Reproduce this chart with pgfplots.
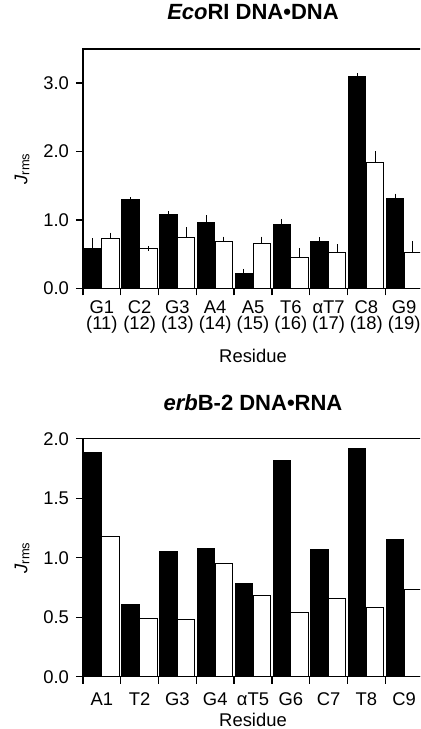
\documentclass[border=0pt]{standalone}
\usepackage{pgfplots}
\usepackage{pgfplotstable}
\pgfplotsset{compat=1.18}
\usepackage{fontspec}
\setmainfont{Liberation Sans}

\pgfplotstableread{
x b be w we
0 0.58 0.12 0.73 0.05
1 1.30 0.00 0.58 0.00
2 1.08 0.01 0.75 0.11
3 0.96 0.07 0.69 0.03
4 0.22 0.03 0.65 0.07
5 0.94 0.04 0.45 0.10
6 0.68 0.03 0.53 0.08
7 3.10 0.01 1.84 0.13
8 1.32 0.03 0.53 0.13
}\ecodata

\pgfplotstableread{
x b w
0 1.88 1.18
1 0.61 0.49
2 1.05 0.48
3 1.08 0.95
4 0.78 0.68
5 1.815 0.54
6 1.07 0.66
7 1.92 0.58
8 1.15 0.73
}\erbdata

\pgfplotsset{
  panel/.style={
    scale only axis, width=170pt,
    xmin=-0.5, xmax=8.5, ymin=0,
    axis line style={line width=0.7pt},
    every tick/.style={black, line width=0.7pt},
    tick align=outside, xtick pos=bottom, ytick pos=left,
    major tick length=3.5pt,
    xtick={-0.5,0.5,...,8.5}, xticklabels={},
    extra x ticks={0,...,8},
    extra x tick style={major tick length=0pt},
    xticklabel style={align=center, font=\fontsize{9.2}{8.1}\selectfont},
    yticklabel style={font=\fontsize{9.2}{9}\selectfont,
      /pgf/number format/.cd, fixed, fixed zerofill, precision=1},
    /pgf/number format/assume math mode=true,
    ylabel={\textit{J}\textsubscript{rms}},
    ylabel style={at={(axis description cs:-0.179,0.5)}, anchor=center, font=\fontsize{9.2}{9}\selectfont},
    xlabel={Residue},
    xlabel style={font=\fontsize{9.2}{9}\selectfont},
    title style={at={(axis description cs:0.5,1)}, anchor=center, font=\fontsize{11}{12}\selectfont\bfseries},
  },
  blackbar/.style={ybar, bar width=0.46, bar shift=0, fill=black, draw=black, line width=0.5pt},
  whitebar/.style={ybar, bar width=0.46, bar shift=0, fill=white, draw=black, line width=0.5pt},
  errs/.style={error bars/.cd, y dir=plus, y explicit,
    error bar style={black, line width=0.5pt},
    error mark options={black, line width=0.5pt, mark size=1.2pt}},
}

\begin{document}
\begin{tikzpicture}
\useasboundingbox (0,0) rectangle (210pt,364.5pt);
\clip (0,0) rectangle (210pt,364.5pt);

\begin{axis}[panel,
  at={(41.5pt,220.35pt)}, anchor=south west,
  height=119.65pt, ymax=3.5,
  ytick={0,1,2,3},
  extra x tick labels={G1\\(11), C2\\(12), G3\\(13), A4\\(14), A5\\(15), T6\\(16), αT7\\(17), C8\\(18), G9\\(19)},
  extra x tick style={xticklabel style={yshift=-2.5pt}},
  xlabel style={at={(axis description cs:0.5,0)}, anchor=center, yshift=-33.85pt},
  title={\textit{Eco}RI DNA•DNA},
  title style={yshift=12.4pt},
]
\addplot[blackbar, errs] table[x expr=\thisrow{x}-0.24, y=b, y error=be]{\ecodata};
\addplot[whitebar, errs] table[x expr=\thisrow{x}+0.23, y=w, y error=we]{\ecodata};
\end{axis}

\begin{axis}[panel,
  at={(41.5pt,26.15pt)}, anchor=south west,
  height=119pt, ymax=2,
  ytick={0,0.5,1,1.5,2},
  extra x tick labels={A1, T2, G3, G4, αT5, G6, C7, T8, C9},
  extra x tick style={xticklabel style={yshift=-4.5pt}},
  xlabel style={at={(axis description cs:0.5,0)}, anchor=center, yshift=-21.8pt},
  title={\textit{erb}B-2 DNA•RNA},
  title style={yshift=12.25pt},
]
\addplot[blackbar] table[x expr=\thisrow{x}-0.24, y=b]{\erbdata};
\addplot[whitebar] table[x expr=\thisrow{x}+0.23, y=w]{\erbdata};
\end{axis}
\end{tikzpicture}
\end{document}
